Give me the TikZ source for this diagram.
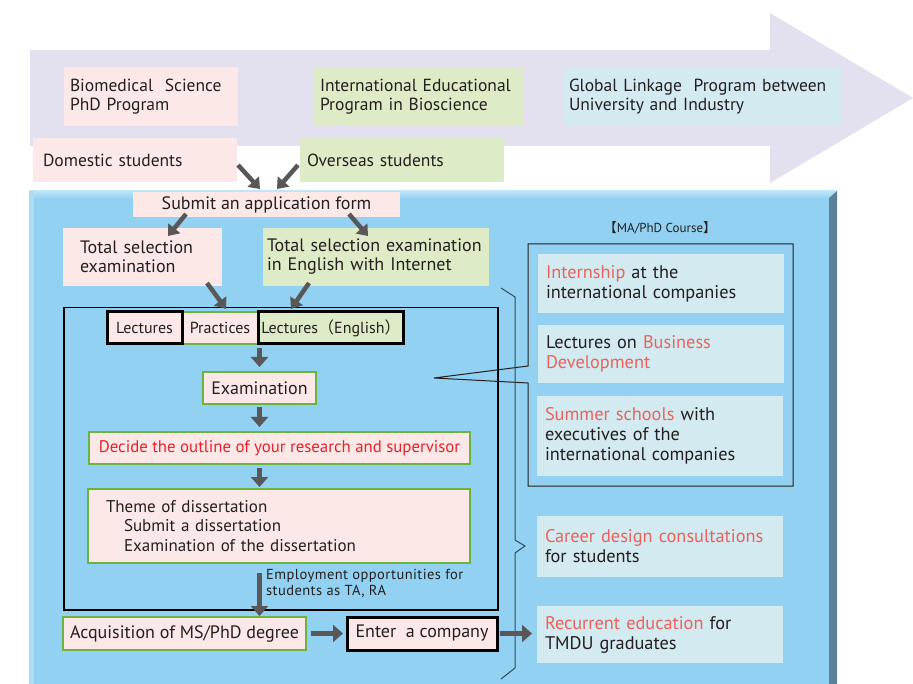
\documentclass[tikz,border=0pt]{standalone}
\usepackage{fontspec}
\setmainfont{PT Sans}
\newfontfamily\cjk{Noto Sans CJK JP}
\usetikzlibrary{arrows.meta,calc}
\definecolor{lav}{HTML}{E3E1F0}
\definecolor{pinkc}{HTML}{FCE9E7}
\definecolor{greenc}{HTML}{DDEBC6}
\definecolor{bluec}{HTML}{D3EAF0}
\definecolor{panelc}{HTML}{92D1F1}
\definecolor{panelhi}{HTML}{BDE5F8}
\definecolor{paneldk}{HTML}{5A8199}
\definecolor{gline}{HTML}{6DB33F}
\definecolor{ink}{HTML}{231F20}
\definecolor{redc}{HTML}{E8202A}
\definecolor{salm}{HTML}{EA625B}
\definecolor{arrc}{HTML}{595757}
\definecolor{bracec}{HTML}{2F4B5C}
\newcommand\hl[1]{\textcolor{salm}{#1}}
\tikzset{
  box/.style={anchor=north west, inner ysep=0pt, outer sep=0pt, align=left, text=ink},
  pinkbox/.style={box, fill=pinkc},
  greenbox/.style={box, fill=greenc},
  bluebox/.style={box, fill=bluec},
  gframe/.style={draw=gline, line width=2.5pt},
  kframe/.style={draw=black, line width=3pt},
  flowarrow/.style={draw=arrc, line width=5pt, -{Triangle[length=10pt,width=17pt]}},
  slantarrow/.style={draw=arrc, line width=4.5pt, -{Triangle[length=10pt,width=15pt]}},
  smallfont/.style={font=\fontsize{16}{18}\selectfont},
  rfont/.style={font=\fontsize{18.3}{20}\selectfont},
  topfont/.style={font=\fontsize{17.5}{19}\selectfont},
}
\begin{document}
\begin{tikzpicture}[x=1pt,y=-1pt, font=\fontsize{18}{19}\selectfont]
\useasboundingbox (0,0) rectangle (913,684);
% big arrow
\fill[lav] (30,50) -- (770,50) -- (770,13) -- (913,98) -- (770,183) -- (770,146) -- (30,146) -- cycle;
% top boxes
\node[pinkbox, topfont, text width=162pt, inner xsep=6pt, minimum height=59pt] (bio) at (64,67) {Biomedical\ \ Science\\PhD Program};
\node[greenbox, topfont, text width=196pt, inner xsep=7pt, minimum height=59pt] (intl) at (313,67) {International Educational\\Program in Bioscience};
\node[bluebox, topfont, text width=267pt, inner xsep=6pt, minimum height=59pt] (glob) at (563,67) {Global Linkage\ \ Program between\\University and Industry};
\node[pinkbox, topfont, text width=184pt, inner xsep=10pt, minimum height=44pt] (dom) at (33,138) {Domestic students};
\node[greenbox, topfont, text width=190pt, inner xsep=7pt, minimum height=44pt] (ovs) at (300,138) {Overseas students};
% panel
\fill[panelc] (29,191) rectangle (837,684);
\shade[top color=panelhi, bottom color=panelc] (29,191) rectangle (837,199);
\fill[panelhi!60!panelc] (29,191) rectangle (34,684);
\fill[paneldk] (829,198) -- (837,191) -- (837,684) -- (829,684) -- cycle;
% application
\node[pinkbox, minimum width=267pt, minimum height=25pt] (sub) at (133,192) {Submit an application form};
\node[pinkbox, text width=125pt, inner xsep=17pt, minimum height=58pt] (tse1) at (63,228) {Total selection\\examination};
\node[greenbox, text width=218pt, inner xsep=4pt, minimum height=58pt] (tse2) at (263,228) {Total selection examination\\in English with Internet};
% frame
\node[draw=black, line width=1.5pt, anchor=north west, inner sep=0pt, minimum width=434pt, minimum height=302pt] (frame) at (63,307) {};
\node[pinkbox, gframe, minimum width=76pt, minimum height=32pt, smallfont] (prac) at (182,312) {Practices};
\node[pinkbox, kframe, minimum width=75pt, minimum height=32pt, smallfont] (lec) at (107,312) {Lectures};
\node[greenbox, kframe, minimum width=145pt, minimum height=32pt, smallfont] (lecE) at (258,312) {Lectures{\cjk（}English{\cjk）}};
\node[pinkbox, gframe, minimum width=113pt, minimum height=32pt] (exam) at (203,372) {Examination};
\node[pinkbox, gframe, minimum width=381pt, minimum height=32pt, text=redc, font=\fontsize{16.8}{18}\selectfont] (decide) at (89,432) {Decide the outline of your research and supervisor};
\node[pinkbox, gframe, text width=346pt, inner xsep=18pt, minimum height=74pt, font=\fontsize{17}{19.3}\selectfont] (theme) at (88,489) {Theme of dissertation\\\hspace*{18pt}Submit a dissertation\\\hspace*{18pt}Examination of the dissertation};
\node[anchor=north west, inner sep=0pt, align=left, text=ink, font=\fontsize{14.5}{16}\selectfont\addfontfeature{LetterSpace=3}] (emp) at (266,569) {Employment opportunities for\\students as TA, RA};
\node[pinkbox, gframe, minimum width=243pt, minimum height=33pt] (acq) at (63,617) {Acquisition of MS/PhD degree};
\node[pinkbox, kframe, minimum width=150pt, minimum height=33pt] (enter) at (347,617) {Enter\ \ a company};
% right side
\node[text=ink, font=\fontsize{13}{15}\selectfont] (course) at (660,228) {{\cjk【}MA/PhD Course{\cjk】}};
\draw[ink, line width=1pt] (528,366) -- (528,244) -- (793,244) -- (793,486) -- (528,486) -- (528,383) -- (434,378) -- cycle;
\node[bluebox, rfont, text width=230pt, inner xsep=8pt, minimum height=59pt] (intern) at (538,254) {\hl{Internship} at the\\international companies};
\node[bluebox, rfont, text width=230pt, inner xsep=8pt, minimum height=58pt] (biz) at (538,325) {Lectures on \hl{Business}\\\hl{Development}};
\node[bluebox, rfont, text width=230pt, inner xsep=8pt, minimum height=80pt] (summer) at (537,396) {\hl{Summer schools} with\\executives of the\\international companies};
\node[bluebox, rfont, text width=230pt, inner xsep=8pt, minimum height=61pt] (career) at (537,516) {\hl{Career design consultations}\\for students};
\node[bluebox, rfont, text width=230pt, inner xsep=8pt, minimum height=57pt] (recur) at (537,606) {\hl{Recurrent education} for\\TMDU graduates};
% brace
\draw[bracec, line width=1pt] (501,288) -- (515,297) -- (515,540) -- (525,546) -- (515,553) -- (515,668) -- (501,679);
% slanted arrows
\coordinate (domout) at (238,165);
\coordinate (subinL) at (260,189);
\coordinate (ovsout) at (298,165);
\coordinate (subinR) at (277,189);
\coordinate (suboutL) at (186,214);
\coordinate (tse1in) at (168,236);
\coordinate (suboutR) at (349,214);
\coordinate (tse2in) at (368,236);
\coordinate (tse1out) at (207,283);
\coordinate (frameinL) at (226,309);
\coordinate (tse2out) at (309,283);
\coordinate (frameinR) at (291,309);
\draw[slantarrow] (domout) -- (subinL);
\draw[slantarrow] (ovsout) -- (subinR);
\draw[slantarrow] (suboutL) -- (tse1in);
\draw[slantarrow] (suboutR) -- (tse2in);
\draw[slantarrow] (tse1out) -- (frameinL);
\draw[slantarrow] (tse2out) -- (frameinR);
% flow arrows
\draw[flowarrow] ($(exam.north |- lecE.south)+(0,4)$) -- ($(exam.north)+(0,-5)$);
\draw[flowarrow] ($(exam.south)+(0,3)$) -- ($(exam.south |- decide.north)+(0,-5)$);
\draw[flowarrow] ($(exam.south |- decide.south)+(0,4)$) -- ($(exam.south |- theme.north)+(0,-2)$);
\draw[flowarrow] ($(exam.south |- theme.south)+(0,10)$) -- ($(exam.south |- acq.north)+(0,-1)$);
\draw[flowarrow] ($(acq.east)+(5,0)$) -- ($(enter.west)+(-4,0)$);
\draw[flowarrow] ($(enter.east)+(3,0)$) -- ($(recur.west |- enter.east)+(-5,0)$);
\end{tikzpicture}
\end{document}
